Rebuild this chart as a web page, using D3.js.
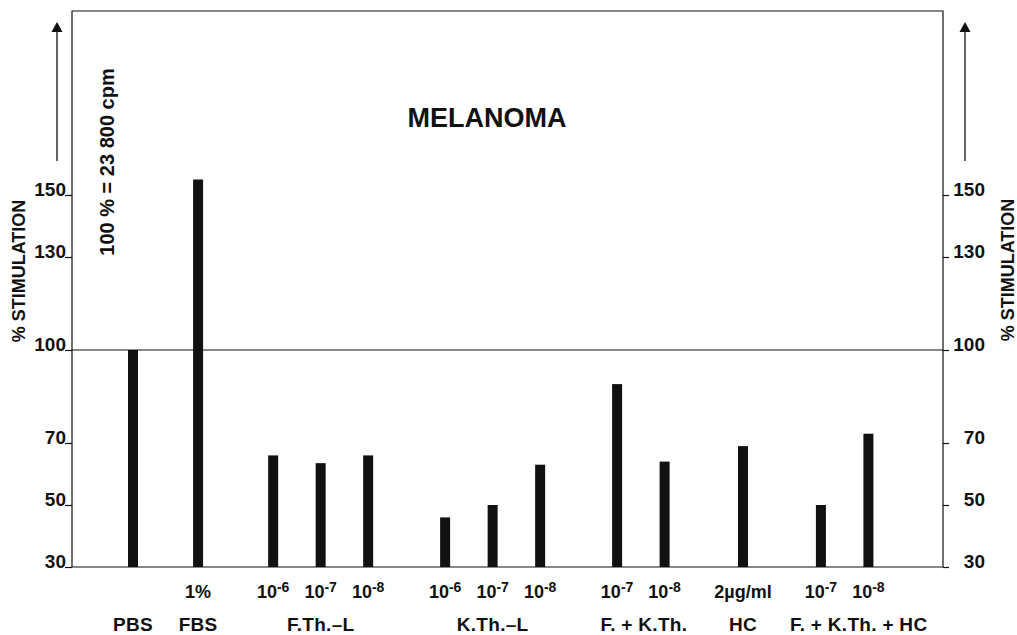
<!DOCTYPE html>
<html>
<head>
<meta charset="utf-8">
<script src="https://cdn.jsdelivr.net/npm/d3@7"></script>
<style>
  html, body { margin: 0; padding: 0; background: #fff; }
  svg { display: block; }
  text { font-family: "Liberation Sans", Arial, Helvetica, sans-serif; fill: #111; }
</style>
</head>
<body>
<svg id="chart" width="1017" height="635"></svg>
<script>
// ---- data ----
const groupNames = ["PBS", "FBS", "F.Th.\u2013L", "K.Th.\u2013L", "F. + K.Th.", "HC", "F. + K.Th. + HC"];
const barGroup   = [0, 1, 2, 2, 2, 3, 3, 3, 4, 4, 5, 6, 6];
const barLabels  = ["", "1%", "10|-6", "10|-7", "10|-8", "10|-6", "10|-7", "10|-8", "10|-7", "10|-8", "2\u00b5g/ml", "10|-7", "10|-8"];
const barValues  = [100, 155, 66, 63.5, 66, 46, 50, 63, 89, 64, 69, 50, 73];
const yTicks     = [30, 50, 70, 100, 130, 150];
const title      = "MELANOMA";
const yTitle     = "% STIMULATION";
const note       = "100 % = 23 800 cpm";

// ---- layout ----
const groupGap = [0, 1.37, 1.58, 1.62, 1.62, 1.65, 1.64];
const groupLabelShift = [0, 0, 0, 0, 3, 0, 14];
const frame = { left: 72, right: 943, top: 11, bottom: 567 };
const svg = d3.select("#chart");

// slot positions from group structure
const slots = [];
let s = 0;
barGroup.forEach((g, i) => {
  if (i > 0) s += (g !== barGroup[i - 1]) ? groupGap[g] : 1;
  slots.push(s);
});

const x = d3.scaleLinear().domain([-1.284, 17.05]).range([frame.left, frame.right]);
const y = d3.scaleLinear().domain([30, 150]).range([frame.bottom, 195]);

// frame
svg.append("path")
  .attr("d", `M${frame.left},${frame.bottom}V${frame.top}H${frame.right}V${frame.bottom}H${frame.left}`)
  .attr("fill", "none").attr("stroke", "#111").attr("stroke-width", 1.2);

// 100 reference line
svg.append("line")
  .attr("x1", frame.left).attr("x2", frame.right)
  .attr("y1", y(100)).attr("y2", y(100))
  .attr("stroke", "#111").attr("stroke-width", 1.2);

// left axis
const leftAxis = d3.axisLeft(y).tickValues(yTicks).tickSize(7).tickPadding(0).tickFormat(d3.format("d"));
const gl = svg.append("g").attr("transform", `translate(${frame.left},0)`).call(leftAxis);
gl.select(".domain").remove();
gl.selectAll(".tick line").attr("stroke", "#111").attr("stroke-width", 1.2);
gl.selectAll(".tick text")
  .attr("x", -6).attr("y", 0).attr("dy", "0")
  .style("font-size", "19px").style("font-weight", "bold").attr("fill", "#111");

// right axis
const rightAxis = d3.axisRight(y).tickValues(yTicks).tickSize(6).tickPadding(0).tickFormat(d3.format("d"));
const gr = svg.append("g").attr("transform", `translate(${frame.right},0)`).call(rightAxis);
gr.select(".domain").remove();
gr.selectAll(".tick line").attr("stroke", "#111").attr("stroke-width", 1.2);
gr.selectAll(".tick text")
  .attr("x", 42).attr("y", 0).attr("dy", "0").attr("text-anchor", "end")
  .style("font-size", "19px").style("font-weight", "bold").attr("fill", "#111");

// bars
svg.append("g").selectAll("rect")
  .data(barValues)
  .join("rect")
  .attr("x", (d, i) => x(slots[i]) - 5)
  .attr("width", 10)
  .attr("y", d => y(d))
  .attr("height", d => y(30) - y(d))
  .attr("fill", "#111");

// bar labels (row 1)
const row1 = svg.append("g").selectAll("text")
  .data(barLabels)
  .join("text")
  .attr("x", (d, i) => x(slots[i]))
  .attr("y", 598)
  .attr("text-anchor", "middle")
  .style("font-size", "18px").style("font-weight", "bold");
row1.each(function(d) {
  const t = d3.select(this);
  if (d.includes("|")) {
    const [base, exp] = d.split("|");
    t.append("tspan").text(base);
    t.append("tspan").text(exp).attr("dy", "-0.4em").style("font-size", "14px");
  } else {
    t.text(d);
  }
});

// group labels (row 2)
svg.append("g").selectAll("text")
  .data(groupNames)
  .join("text")
  .attr("x", (d, gi) => {
    const idx = slots.filter((v, i) => barGroup[i] === gi);
    return x(d3.mean(idx)) + groupLabelShift[gi];
  })
  .attr("y", 631)
  .attr("text-anchor", "middle")
  .style("font-size", "19px").style("font-weight", "bold").style("letter-spacing", "0.3px")
  .text(d => d);

// title
svg.append("text").attr("x", 487).attr("y", 127).attr("text-anchor", "middle")
  .style("font-size", "27px").style("font-weight", "bold").text(title);

// rotated axis titles
svg.append("text").attr("transform", "translate(25,271) rotate(-90)").attr("text-anchor", "middle")
  .style("font-size", "18px").style("font-weight", "bold").text(yTitle);
svg.append("text").attr("transform", "translate(1014,270) rotate(-90)").attr("text-anchor", "middle")
  .style("font-size", "18px").style("font-weight", "bold").text(yTitle);

// note
svg.append("text").attr("transform", "translate(114,162) rotate(-90)").attr("text-anchor", "middle")
  .style("font-size", "20px").style("font-weight", "bold").text(note);

// arrows
const defs = svg.append("defs");
defs.append("marker").attr("id", "ah").attr("viewBox", "0 0 10 14")
  .attr("refX", 5).attr("refY", 7).attr("markerWidth", 10).attr("markerHeight", 14)
  .attr("markerUnits", "userSpaceOnUse").attr("orient", "auto")
  .append("path").attr("d", "M0,1.5L14,7L0,12.5Z").attr("transform", "scale(0.72,1) ")
  .attr("fill", "#111");
[57, 965].forEach(ax => {
  svg.append("line").attr("x1", ax).attr("x2", ax).attr("y1", 161).attr("y2", 27)
    .attr("stroke", "#111").attr("stroke-width", 1.3).attr("marker-end", "url(#ah)");
});
</script>
</body>
</html>
